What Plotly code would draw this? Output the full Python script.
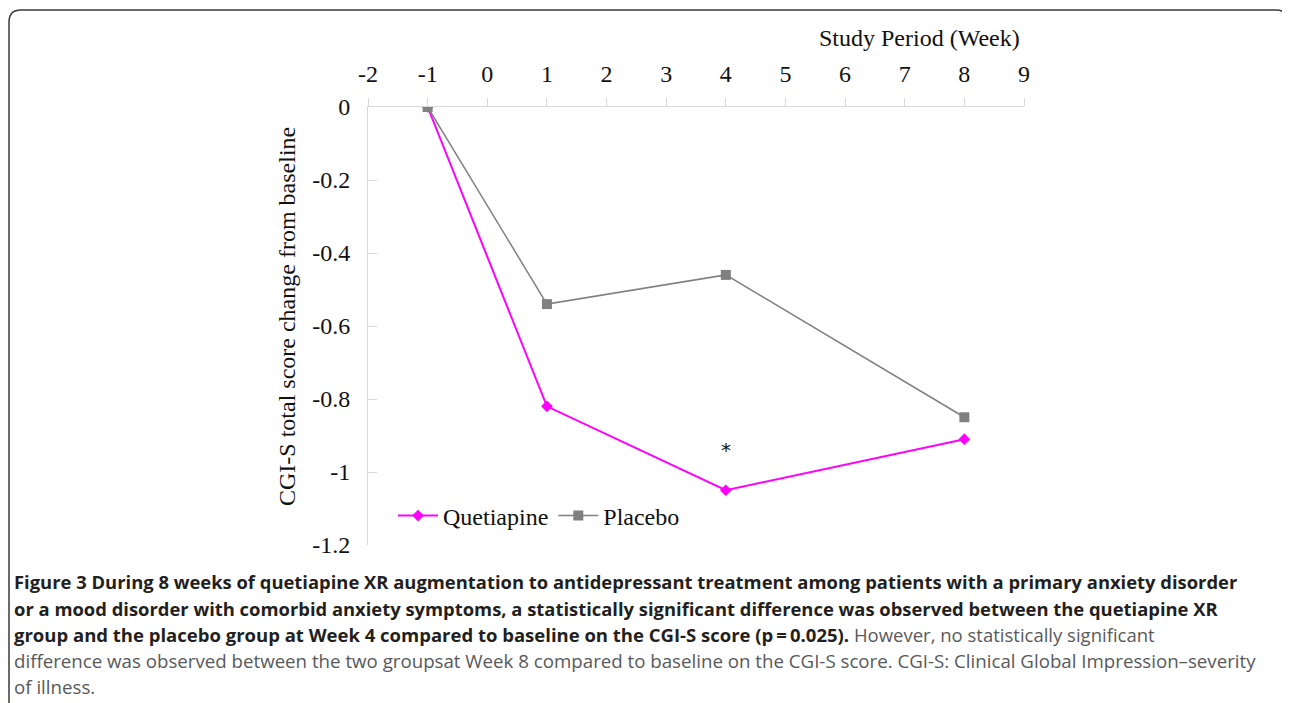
import plotly.graph_objects as go

weeks = [-1, 1, 4, 8]
quetiapine = [0.0, -0.82, -1.05, -0.91]
placebo = [0.0, -0.54, -0.46, -0.85]
x_ticks = [-2, -1, 0, 1, 2, 3, 4, 5, 6, 7, 8, 9]
x_tick_labels = ["-2", "-1", "0", "1", "2", "3", "4", "5", "6", "7", "8", "9"]
y_ticks = [0, -0.2, -0.4, -0.6, -0.8, -1.0, -1.2]
y_tick_labels = ["0", "-0.2", "-0.4", "-0.6", "-0.8", "-1", "-1.2"]
sig_week = 4
sig_y = -0.94

OFF = 8  # page body margin
W, H = 1290 - OFF, 703 - OFF
L, R, T, B = 368 - OFF, 1024 - OFF, 107 - OFF, 545 - OFF


def px(xp):
    return (xp - OFF - L) / (R - L)


def py(yp):
    return (B - (yp - OFF)) / (B - T)


serif = "Liberation Serif, Times New Roman, serif"
fig = go.Figure()
fig.add_trace(go.Scatter(
    x=weeks, y=quetiapine, name="Quetiapine", mode="lines+markers",
    line=dict(color="#ff00ff", width=2),
    marker=dict(symbol="diamond", size=9, color="#ff00ff"),
))
fig.add_trace(go.Scatter(
    x=weeks, y=placebo, name="Placebo", mode="lines+markers",
    line=dict(color="#808080", width=1.5),
    marker=dict(symbol="square", size=10, color="#808080"),
))

fig.update_layout(
    width=W, height=H,
    margin=dict(l=L, r=W - R, t=T, b=H - B, pad=0),
    paper_bgcolor="white", plot_bgcolor="white",
    font=dict(family=serif, size=22, color="#111"),
    showlegend=True,
    legend=dict(orientation="h", x=px(393), y=py(516), xanchor="left", yanchor="middle",
                font=dict(family=serif, size=24, color="#111"), bgcolor="rgba(0,0,0,0)",
                itemwidth=40, tracegroupgap=0),
    xaxis=dict(side="top", range=[-2, 9], tickvals=x_ticks, ticktext=x_tick_labels,
               ticks="outside", ticklen=8, tickcolor="#d9d9d9", showline=True,
               linecolor="#d9d9d9", linewidth=1, showgrid=False, zeroline=False,
               ticklabelstandoff=6,
               tickfont=dict(family=serif, size=24, color="#111")),
    yaxis=dict(range=[-1.2, 0], tickvals=y_ticks, ticktext=y_tick_labels,
               ticks="inside", ticklen=9, tickcolor="#d9d9d9", showline=True,
               linecolor="#d9d9d9", linewidth=1, showgrid=False, zeroline=False,
               ticklabelstandoff=12,
               tickfont=dict(family=serif, size=24, color="#111")),
)

# x-axis title
fig.add_annotation(text="Study Period (Week)", xref="paper", yref="paper",
                   x=px(1022), y=py(38), xanchor="right", yanchor="middle",
                   showarrow=False, font=dict(family=serif, size=24, color="#111"))
# y-axis title
fig.add_annotation(text="CGI-S total score change from baseline", xref="paper", yref="paper",
                   x=px(287), y=py(317), xanchor="center", yanchor="middle", textangle=-90,
                   showarrow=False, font=dict(family=serif, size=24, color="#111"))
# significance marker
fig.add_annotation(text="*", x=sig_week, y=sig_y, xref="x", yref="y", showarrow=False,
                   font=dict(family="DejaVu Sans, sans-serif", size=20, color="#111"))

# caption
bold_c = "#231f20"
norm_c = "#58595b"
cap_font = "Open Sans, Noto Sans, sans-serif"
lines = [
    (f"<b><span style='color:{bold_c}'>Figure 3 During 8 weeks of quetiapine XR augmentation to antidepressant treatment among patients with a primary anxiety disorder</span></b>", 18.4),
    (f"<b><span style='color:{bold_c}'>or a mood disorder with comorbid anxiety symptoms, a statistically significant difference was observed between the quetiapine XR</span></b>", 18.4),
    (f"<b><span style='color:{bold_c}'>group and the placebo group at Week 4 compared to baseline on the CGI-S score (p\u2009=\u20090.025).</span></b> However, no statistically significant", 18.5),
    ("difference was observed between the two groupsat Week 8 compared to baseline on the CGI-S score. CGI-S: Clinical Global Impression\u2013severity", 18.7),
    ("of illness.", 18.7),
]
ys = [581, 608, 634, 660, 686]
for (t, fs), yy in zip(lines, ys):
    fig.add_annotation(text=t, xref="paper", yref="paper", x=px(12), y=py(yy),
                       xanchor="left", yanchor="middle", showarrow=False, align="left",
                       font=dict(family=cap_font, size=fs, color=norm_c))

# rounded frame
x0, x1, y0, y1, r = 9, 1288, 10, 720, 12
path = (f"M {px(x0)},{py(y1)} L {px(x0)},{py(y0 + r)} "
        f"Q {px(x0)},{py(y0)} {px(x0 + r)},{py(y0)} "
        f"L {px(x1 - r)},{py(y0)} Q {px(x1)},{py(y0)} {px(x1)},{py(y0 + r)} "
        f"L {px(x1)},{py(y1)}")
fig.add_shape(type="path", path=path, xref="paper", yref="paper",
              line=dict(color="#3a3a3a", width=1.5), layer="above")

fig.write_html("out.html")
